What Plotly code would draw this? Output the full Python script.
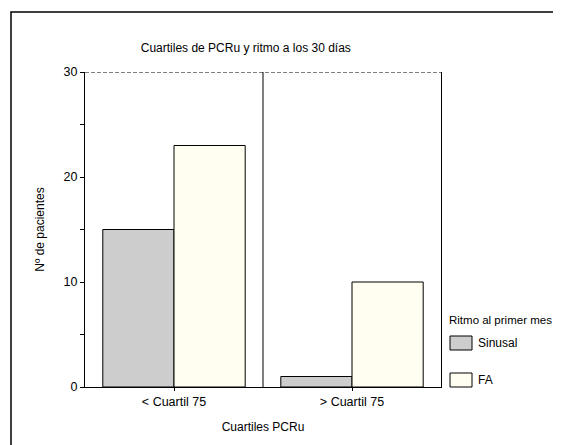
import plotly.graph_objects as go

categories = ["< Cuartil 75", "> Cuartil 75"]
sinusal = [15, 1]
fa = [23, 10]
series_names = ["Sinusal", "FA"]
y_ticks = [0, 10, 20, 30]

FONT = "Liberation Sans Narrow, Arial Narrow, Liberation Sans, Arial, sans-serif"
colors = {"Sinusal": "#cdcdcd", "FA": "#fffef0"}

# page body has an 8px margin; figure placed at (8, 8)
W, H = 553, 437
OX, OY = 8, 8
PL, PR, PT, PB = 85, 441, 72, 387  # plot area in window pixels
pw, ph = PR - PL, PB - PT


def px(x):
    return (x - PL) / pw


def py(y):
    return (PB - y) / ph


fig = go.Figure()
for name, vals in zip(series_names, [sinusal, fa]):
    fig.add_trace(go.Bar(
        x=categories, y=vals, name=name,
        marker=dict(color=colors[name], line=dict(color="black", width=1)),
        showlegend=False,
    ))

fig.update_layout(
    width=W, height=H,
    margin=dict(l=PL - OX, r=W - (PR - OX), t=PT - OY, b=H - (PB - OY)),
    paper_bgcolor="white", plot_bgcolor="white",
    barmode="group", bargap=0.2, bargroupgap=0,
    font=dict(family=FONT, size=12, color="black"),
    title=dict(text="Cuartiles de PCRu y ritmo a los 30 días",
               x=0.43, xanchor="center", y=1 - (48 - OY) / H, yanchor="middle",
               font=dict(size=12)),
    xaxis=dict(showline=True, linecolor="black", linewidth=1,
               ticks="outside", ticklen=3, tickcolor="black",
               tickfont=dict(size=12.5),
               title=dict(text="Cuartiles PCRu", standoff=14, font=dict(size=12))),
    yaxis=dict(range=[0, 30], tickvals=y_ticks, showgrid=False, zeroline=False,
               showline=True, linecolor="black", linewidth=1, mirror=True,
               ticks="outside", ticklen=4, tickcolor="black",
               minor=dict(dtick=5, ticks="outside", ticklen=4, tickcolor="black", showgrid=False),
               tickfont=dict(size=12.5),
               title=dict(text="Nº de pacientes", standoff=16, font=dict(size=12))),
)

# dashed top line at axis max and divider between categories
fig.add_shape(type="line", xref="paper", yref="y", x0=0, x1=1, y0=30, y1=30,
              line=dict(color="black", width=1.2, dash="4px,2px"))
fig.add_shape(type="line", xref="x", yref="paper", x0=0.5, x1=0.5, y0=0, y1=1,
              line=dict(color="black", width=1))

# outer frame
fig.add_shape(type="rect", xref="paper", yref="paper",
              x0=px(11), x1=px(600), y0=py(480), y1=py(12),
              line=dict(color="black", width=1.5))

# custom legend
fig.add_annotation(xref="paper", yref="paper", x=px(447), y=py(320),
                   text="Ritmo al primer mes", showarrow=False, xanchor="left", yanchor="middle",
                   font=dict(size=11.5))
leg_y = [343, 380]
for name, cy in zip(series_names, leg_y):
    fig.add_shape(type="rect", xref="paper", yref="paper",
                  x0=px(450), x1=px(472), y0=py(cy + 7), y1=py(cy - 7),
                  fillcolor=colors[name], line=dict(color="black", width=1))
    fig.add_annotation(xref="paper", yref="paper", x=px(476), y=py(cy),
                       text=name, showarrow=False, xanchor="left", yanchor="middle",
                       font=dict(size=12))

fig.write_html("out.html")
